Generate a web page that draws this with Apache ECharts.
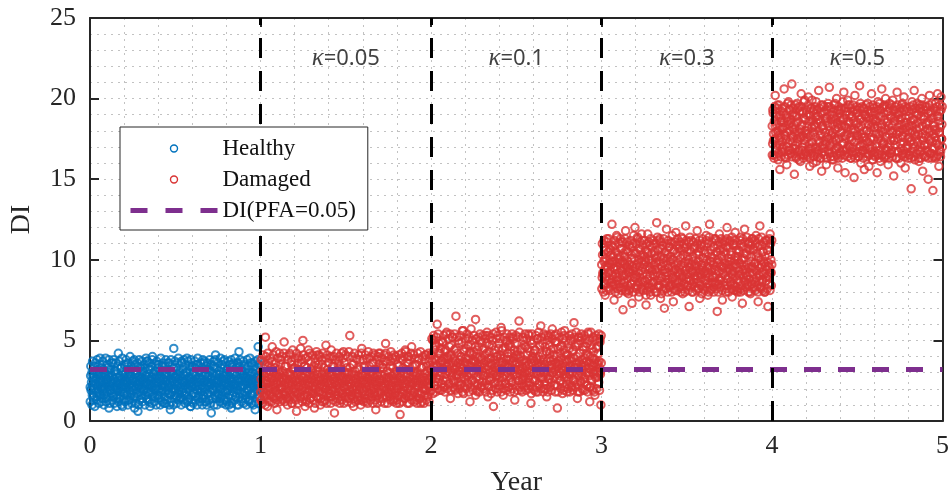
<!DOCTYPE html>
<html>
<head>
<meta charset="utf-8">
<title>DI vs Year</title>
<script src="https://cdn.jsdelivr.net/npm/echarts@6/dist/echarts.min.js"></script>
<style>
  html, body { margin: 0; padding: 0; background: #fff; }
  #chart { width: 952px; height: 502px; }
</style>
</head>
<body>
<div id="chart"></div>
<script>
// DI samples, one list per year (year 0-1 healthy, then damaged with growing kappa)
const healthy = [
  2.1,2.8,1.9,2.4,3.0,1.6,2.2,2.7,1.3,2.5,2.0,3.4,2.3,1.8,2.6,2.9,1.5,2.2,3.1,2.0,
  2.6,1.7,2.3,3.9,2.1,2.4,1.2,2.8,2.2,1.9,2.5,3.2,1.6,2.7,2.0,2.3,2.9,1.4,2.4,2.6,
  1.8,2.5,3.3,2.1,0.8,2.7,2.2,1.9,3.0,2.4,1.7,2.8,2.3,3.6,2.0,1.5,2.6,2.1,2.9,2.2,
  3.1,2.0,1.6,2.4,2.7,1.9,4.2,2.3,1.4,2.8,2.5,2.1,1.8,3.3,2.6,2.2,0.9,2.4,2.0,2.7,
  2.3,1.7,2.9,2.5,2.1,3.5,1.8,2.4,2.7,1.3,2.2,3.0,2.6,1.9,2.3,2.8,1.6,3.2,2.1,2.5,
  1.9,2.6,2.2,3.8,1.5,2.4,2.9,2.0,2.7,1.7,3.1,2.3,0.6,2.5,2.2,1.8,2.8,2.4,3.4,2.0,
  2.7,2.1,1.4,2.5,3.0,2.3,1.9,2.6,2.2,3.3,1.6,2.8,2.4,2.0,3.7,1.8,2.3,2.9,1.2,2.6,
  2.2,3.2,2.5,1.8,2.7,2.1,4.0,2.4,1.7,2.9,2.3,1.5,2.6,3.1,2.0,2.4,1.9,2.8,2.2,3.5,
  1.6,2.4,2.8,2.0,3.1,2.5,1.3,2.2,2.7,1.9,3.4,2.3,2.6,1.1,2.9,2.1,2.5,1.8,3.0,2.4,
  2.5,1.9,2.3,3.6,2.1,2.8,1.7,2.4,0.7,2.6,2.2,3.0,1.8,2.5,2.9,2.0,4.5,2.3,1.6,2.7,
  2.0,2.7,3.3,1.5,2.4,2.2,2.9,1.9,2.6,3.1,2.3,1.4,2.8,2.1,3.7,2.5,1.8,2.4,2.0,2.9,
  2.8,1.6,2.4,2.2,3.0,1.8,2.6,3.9,2.1,2.5,1.3,2.7,2.3,1.9,3.2,2.4,0.9,2.6,2.2,3.4,
  2.1,2.9,1.7,2.5,2.3,3.3,2.0,1.5,2.8,2.4,2.6,1.9,3.5,2.2,2.7,1.6,2.4,3.1,2.0,2.6,
  3.0,2.2,2.6,1.4,2.8,2.1,2.4,3.6,1.8,2.5,2.0,2.9,1.2,2.3,3.2,2.6,1.7,2.4,2.8,2.1,
  2.4,1.8,3.1,2.6,0.5,2.3,2.7,2.0,3.4,1.9,2.5,2.2,2.8,1.6,4.1,2.4,2.1,2.9,1.5,2.6,
  1.7,2.5,2.3,2.9,2.1,1.4,2.7,3.3,2.4,2.0,2.6,1.8,3.0,2.2,2.5,3.8,1.9,2.3,2.8,1.3,
  2.6,3.2,1.9,2.4,2.8,2.2,1.6,2.5,3.0,2.1,2.7,0.8,2.4,3.5,2.0,2.6,1.8,2.3,2.9,2.2,
  2.3,1.5,2.8,2.0,3.3,2.5,2.2,1.9,2.6,4.3,2.4,1.7,2.9,2.1,2.7,3.1,1.4,2.5,2.2,2.8,
  2.9,2.2,1.8,3.4,2.5,1.6,2.3,2.7,2.0,2.4,3.0,1.9,2.6,1.2,2.8,2.3,3.6,2.1,2.5,1.7,
  2.4,3.0,2.1,2.6,1.7,2.9,2.3,0.7,2.5,3.2,2.0,2.7,1.9,2.4,4.6,2.2,2.8,1.5,2.6,3.1
];
// second sampling pass over the same healthy year
const healthyB = [
  1.2,3.4,2.0,1.0,3.7,2.7,1.5,3.1,0.9,3.6,2.3,1.3,3.8,1.8,3.2,1.1,2.9,3.5,1.6,2.5,
  3.3,1.4,3.7,2.1,1.0,3.0,1.7,3.9,1.2,2.6,3.5,1.5,2.8,3.8,1.1,3.2,1.9,3.6,1.3,2.4,
  1.6,3.8,1.1,3.1,2.2,3.6,1.4,0.9,3.4,2.0,1.2,3.7,2.7,1.5,3.3,1.0,3.9,1.8,3.0,1.3,
  3.5,1.2,2.4,3.8,1.6,3.2,1.0,3.6,2.9,1.3,4.0,1.7,3.4,1.1,2.5,3.7,1.4,3.1,0.8,3.5,
  1.1,3.0,1.5,3.6,2.1,1.0,3.8,1.3,3.3,2.6,1.6,3.7,1.2,3.1,1.9,3.5,1.0,2.8,3.9,1.4,
  3.7,1.3,3.2,1.7,3.6,0.9,2.3,3.4,1.1,3.8,1.5,3.0,2.0,1.2,3.5,2.7,1.0,3.7,1.6,3.3,
  1.4,3.5,2.6,1.0,3.9,1.8,3.1,1.2,3.6,2.2,1.5,3.4,1.1,3.8,2.9,1.3,3.2,1.7,3.6,1.0,
  3.1,1.6,3.8,1.2,2.5,3.5,1.0,3.3,1.9,3.7,1.4,2.8,1.1,3.6,1.7,3.9,1.3,3.0,2.1,1.5,
  1.0,3.6,1.8,3.2,1.3,3.8,2.4,1.1,3.5,1.6,3.0,1.2,3.7,2.0,1.4,3.4,0.9,3.8,2.7,1.2,
  3.4,1.1,3.0,1.7,3.7,1.3,3.5,2.2,1.0,3.9,1.5,3.1,2.6,1.2,3.6,1.8,3.3,1.0,3.8,1.6,
  1.5,3.7,1.2,2.9,3.4,1.0,3.6,1.7,3.2,1.3,3.8,2.3,1.1,3.5,1.9,3.0,1.4,3.7,1.0,3.3,
  3.8,1.4,3.3,1.0,2.4,3.6,1.6,3.1,1.2,3.9,2.0,1.5,3.5,1.1,3.7,2.8,1.3,3.4,1.8,1.0,
  1.2,3.2,1.9,3.7,1.0,3.5,2.6,1.4,3.8,1.1,3.0,1.6,3.6,2.1,1.3,3.9,1.5,3.3,1.0,3.6,
  3.6,1.0,3.4,1.5,3.8,2.2,1.2,3.1,1.7,3.7,1.1,3.5,2.7,1.4,3.2,1.0,3.8,1.9,3.4,1.3,
  1.3,3.9,1.6,3.0,1.1,3.6,2.5,1.0,3.4,1.8,3.7,1.2,3.1,2.3,1.5,3.8,1.1,3.5,2.0,3.7
];
const damagedK005 = [
  1.8,2.6,1.3,3.1,2.2,1.9,3.7,2.4,1.5,2.8,2.0,5.2,2.5,1.7,3.0,2.3,0.9,2.7,3.4,2.1,
  2.9,1.6,2.4,3.3,2.0,1.2,2.6,4.6,2.2,1.8,3.0,2.5,1.4,2.8,2.1,3.6,1.9,2.4,0.7,2.7,
  2.3,3.2,1.7,2.6,2.9,2.0,1.5,3.8,2.4,2.1,2.7,1.3,3.1,2.5,1.8,4.9,2.2,2.8,1.6,3.4,
  2.0,2.6,3.0,1.4,2.3,2.9,1.9,2.5,4.2,1.7,2.8,2.2,3.5,1.1,2.6,2.4,3.2,2.0,1.6,2.7,
  3.3,1.8,2.5,2.2,0.6,2.9,2.4,3.9,1.7,2.6,2.1,3.1,2.4,1.5,2.8,2.2,3.6,1.9,2.5,5.0,
  2.1,2.7,1.6,3.4,2.3,2.0,2.8,1.3,2.5,3.0,1.8,2.6,4.4,2.2,1.9,2.9,2.4,1.4,3.2,2.6,
  1.9,2.5,3.1,2.2,1.7,2.8,0.8,2.4,3.6,2.0,2.6,1.5,2.9,2.3,3.3,1.8,2.5,4.1,2.1,2.7,
  2.6,1.4,2.3,2.9,3.5,2.1,1.8,2.6,2.4,1.2,3.0,2.7,2.0,4.7,1.6,2.4,2.8,3.2,1.9,2.3,
  3.0,2.2,1.7,2.5,2.8,4.0,1.5,2.3,2.9,2.1,1.9,3.4,2.6,0.5,2.4,2.7,1.8,3.1,2.2,2.5,
  1.6,2.9,2.4,3.7,2.0,2.6,1.3,2.8,2.3,1.9,3.2,2.5,1.7,2.7,4.3,2.1,2.4,3.0,1.5,2.6,
  2.5,1.8,3.3,2.2,2.7,1.4,2.4,3.0,2.1,5.3,1.9,2.6,2.3,1.6,2.9,3.5,2.0,2.5,0.9,2.8,
  2.2,3.1,1.7,2.6,2.4,2.0,3.8,1.5,2.8,2.3,2.6,1.9,3.2,2.1,1.3,2.7,2.5,4.5,2.0,2.4,
  2.8,1.9,2.5,3.4,1.6,2.3,2.9,2.1,1.2,2.7,3.1,2.4,1.8,2.6,2.2,3.9,1.7,2.5,3.0,2.1,
  1.5,2.6,2.3,2.9,3.6,2.0,2.7,1.8,2.4,3.2,0.7,2.5,2.2,2.8,1.6,3.0,2.4,4.2,1.9,2.6,
  2.4,3.3,1.7,2.2,2.8,2.5,1.4,3.5,2.1,2.6,1.9,2.9,2.3,4.8,1.6,2.7,2.0,3.1,2.4,1.8,
  2.7,2.1,3.0,1.5,2.5,3.7,2.2,1.9,2.8,2.4,3.3,1.3,2.6,2.0,2.9,1.7,4.0,2.5,2.2,3.1,
  2.0,2.8,2.4,1.6,3.4,2.2,2.7,0.4,2.5,3.0,1.8,2.6,2.3,3.8,1.9,2.5,2.9,1.4,2.1,4.4,
  3.2,2.3,1.7,2.9,2.5,2.0,3.6,2.4,1.5,2.7,2.2,3.1,1.9,2.6,4.6,2.3,1.6,2.8,2.4,3.0,
  2.6,1.8,3.5,2.1,2.8,2.4,1.3,3.0,2.5,2.2,3.9,1.7,2.7,2.3,2.9,1.1,2.6,3.3,2.0,2.5,
  2.3,3.4,2.0,2.7,1.6,2.9,2.5,4.1,1.9,2.4,3.1,2.2,1.5,2.8,2.6,3.7,2.1,1.8,2.7,3.2
];
const damagedK005B = [
  1.3,3.8,2.2,1.1,4.1,2.9,1.6,3.5,1.0,4.0,2.5,1.4,4.2,1.9,3.6,1.2,3.1,3.9,1.7,2.7,
  3.7,1.5,4.1,2.3,1.1,3.3,1.8,4.3,1.3,2.8,3.9,1.6,3.0,4.2,1.2,3.5,2.0,4.0,1.4,2.6,
  1.7,4.2,1.2,3.4,2.4,4.0,1.5,1.0,3.8,2.2,1.3,4.1,2.9,1.6,3.7,1.1,4.4,1.9,3.3,1.4,
  3.9,1.3,2.6,4.2,1.7,3.6,1.1,4.0,3.2,1.4,4.5,1.8,3.8,1.2,2.7,4.1,1.5,3.4,0.9,3.9,
  1.2,3.3,1.6,4.0,2.3,1.1,4.2,1.4,3.7,2.8,1.7,4.1,1.3,3.4,2.0,3.9,1.1,3.1,4.3,1.5,
  4.1,1.4,3.5,1.8,4.0,1.0,2.5,3.8,1.2,4.2,1.6,3.3,2.2,1.3,3.9,2.9,1.1,4.1,1.7,3.6,
  1.5,3.9,2.8,1.1,4.4,1.9,3.4,1.3,4.0,2.4,1.6,3.8,1.2,4.2,3.1,1.4,3.5,1.8,4.0,1.1,
  3.4,1.7,4.2,1.3,2.7,3.9,1.1,3.6,2.1,4.1,1.5,3.0,1.2,4.0,1.8,4.3,1.4,3.3,2.3,1.6,
  1.1,4.0,1.9,3.5,1.4,4.2,2.6,1.2,3.9,1.7,3.3,1.3,4.1,2.2,1.5,3.8,1.0,4.2,2.9,1.3,
  3.8,1.2,3.3,1.8,4.1,1.4,3.9,2.4,1.1,4.3,1.6,3.4,2.8,1.3,4.0,1.9,3.6,1.1,4.2,1.7,
  1.6,4.1,1.3,3.2,3.8,1.1,4.0,1.8,3.5,1.4,4.2,2.5,1.2,3.9,2.1,3.3,1.5,4.1,1.1,3.7,
  4.2,1.5,3.7,1.1,2.6,4.0,1.7,3.4,1.3,4.3,2.2,1.6,3.9,1.2,4.1,3.0,1.4,3.8,1.9,1.1,
  1.3,3.5,2.0,4.1,1.1,3.9,2.8,1.5,4.2,1.2,3.3,1.7,4.0,2.3,1.4,4.3,1.6,3.6,1.1,4.0,
  4.0,1.1,3.8,1.6,4.2,2.4,1.3,3.4,1.8,4.1,1.2,3.9,2.9,1.5,3.5,1.1,4.2,2.1,3.8,1.4,
  1.4,4.3,1.7,3.3,1.2,4.0,2.7,1.1,3.8,1.9,4.1,1.3,3.4,2.5,1.6,4.2,1.2,3.9,2.2,4.1
];
const damagedK01 = [
  3.2,4.1,2.6,3.7,5.0,2.9,3.4,4.4,2.2,3.8,3.1,4.7,2.7,3.5,6.0,3.0,2.4,3.9,4.2,3.3,
  2.8,3.6,4.5,3.0,1.9,3.7,3.3,4.9,2.5,3.9,3.2,2.1,4.3,3.6,2.9,5.4,3.4,2.6,4.0,3.1,
  3.8,2.3,3.5,4.6,3.0,1.4,3.6,4.1,2.7,3.3,5.2,3.0,2.5,3.9,4.4,3.2,2.0,3.7,6.5,2.8,
  3.4,4.2,2.9,3.6,2.4,4.8,3.1,3.8,2.2,3.5,4.0,2.7,3.3,5.6,2.9,3.7,1.7,4.3,3.0,3.6,
  2.6,3.9,4.5,3.2,2.8,3.5,5.1,2.3,3.8,3.0,4.2,1.2,3.4,4.7,2.9,3.6,3.1,2.5,4.1,3.7,
  4.3,3.0,2.4,3.7,6.3,3.3,2.7,4.0,3.5,1.8,3.9,3.2,4.6,2.6,3.4,5.0,2.9,3.8,2.1,3.5,
  3.1,4.4,2.8,3.6,3.3,2.2,4.1,5.3,3.0,3.7,2.5,4.8,3.4,1.5,3.9,3.2,4.3,2.7,3.6,3.0,
  3.9,2.6,3.5,4.7,3.1,2.9,0.9,3.8,4.2,3.3,2.4,3.6,5.5,3.0,2.8,4.0,3.4,2.0,4.5,3.2,
  2.7,3.7,4.1,3.0,5.8,2.5,3.6,3.2,4.4,1.6,3.9,3.1,2.8,4.6,3.5,2.3,3.8,4.9,3.0,3.4,
  4.0,3.3,2.1,3.8,3.5,4.8,2.7,3.1,4.2,3.6,2.4,5.2,3.0,3.9,2.9,4.4,1.3,3.5,3.2,4.1,
  3.6,2.8,4.3,3.2,2.5,3.9,6.2,3.4,2.9,4.0,3.1,1.9,3.7,4.5,2.6,3.3,5.0,2.8,3.8,3.0,
  2.9,4.6,3.4,2.2,3.7,3.1,4.1,2.7,5.4,3.5,3.0,2.4,4.3,3.8,1.1,3.6,4.8,3.2,2.6,3.9,
  4.2,3.0,3.7,2.5,4.4,3.3,1.8,3.9,3.1,5.1,2.8,3.6,4.0,2.3,3.4,4.7,3.0,5.9,2.7,3.5,
  3.3,2.6,4.1,3.8,3.0,2.0,3.5,4.6,2.9,3.2,4.3,1.5,3.7,3.1,5.3,2.6,3.9,3.4,4.2,2.8,
  3.7,4.4,2.4,3.3,5.7,3.0,3.8,2.7,4.1,3.5,2.2,4.9,3.2,3.6,2.9,4.0,0.8,3.4,4.5,3.1,
  2.8,3.5,4.2,3.0,2.5,3.9,4.7,3.3,1.7,3.6,3.1,4.4,2.7,5.6,3.4,2.9,3.8,4.1,2.3,3.7,
  4.1,3.2,2.6,3.8,4.5,2.9,3.4,5.0,3.1,2.1,3.7,4.3,3.0,2.6,3.9,6.1,3.3,2.4,4.6,3.5,
  3.0,4.0,3.6,1.4,3.3,4.8,2.8,3.7,3.1,4.2,2.5,3.5,5.2,2.9,3.8,3.2,1.9,4.4,3.6,2.7,
  3.9,2.4,3.4,4.6,3.0,3.7,2.2,4.1,5.5,3.3,2.8,3.6,1.2,4.0,3.2,4.7,2.6,3.5,3.9,3.0,
  3.4,4.3,2.9,3.6,1.6,3.8,3.1,4.5,2.7,5.1,3.5,3.0,4.2,2.4,3.7,3.3,4.9,2.9,1.0,3.6
];
const damagedK01B = [
  1.9,5.1,3.0,1.7,5.3,3.8,2.2,4.6,1.8,5.2,3.4,2.0,5.4,2.6,4.8,1.9,4.2,5.0,2.3,3.7,
  4.9,2.1,5.3,3.2,1.8,4.4,2.5,5.5,2.0,3.9,5.1,2.3,4.1,5.4,1.9,4.7,2.8,5.2,2.1,3.6,
  2.4,5.4,1.9,4.5,3.3,5.2,2.2,1.7,5.0,3.1,2.0,5.3,4.0,2.3,4.9,1.8,5.6,2.7,4.4,2.1,
  5.1,2.0,3.6,5.4,2.4,4.7,1.8,5.2,4.3,2.1,5.7,2.5,5.0,1.9,3.8,5.3,2.2,4.6,1.6,5.1,
  1.9,4.4,2.3,5.2,3.2,1.8,5.4,2.1,4.9,3.9,2.4,5.3,2.0,4.5,2.8,5.1,1.8,4.2,5.5,2.2,
  5.3,2.1,4.7,2.5,5.2,1.7,3.5,5.0,1.9,5.4,2.3,4.4,3.1,2.0,5.1,4.0,1.8,5.3,2.4,4.8,
  2.2,5.1,3.9,1.8,5.6,2.7,4.5,2.0,5.2,3.3,2.3,5.0,1.9,5.4,4.2,2.1,4.7,2.5,5.2,1.8,
  4.6,2.4,5.4,2.0,3.7,5.1,1.8,4.8,2.9,5.3,2.2,4.1,1.9,5.2,2.5,5.5,2.1,4.4,3.2,2.3,
  1.8,5.2,2.6,4.7,2.1,5.4,3.6,1.9,5.1,2.4,4.5,2.0,5.3,3.0,2.2,5.0,1.7,5.4,4.0,2.0,
  5.0,1.9,4.4,2.5,5.3,2.1,5.1,3.4,1.8,5.5,2.3,4.6,3.8,2.0,5.2,2.7,4.8,1.8,5.4,2.4,
  2.3,5.3,2.0,4.3,5.0,1.8,5.2,2.6,4.7,2.1,5.4,3.5,1.9,5.1,3.0,4.5,2.2,5.3,1.8,4.9,
  5.4,2.2,4.9,1.8,3.7,5.2,2.5,4.6,2.0,5.5,3.2,2.3,5.1,1.9,5.3,4.2,2.1,5.0,2.7,1.8,
  2.0,4.8,2.9,5.3,1.8,5.1,3.9,2.2,5.4,1.9,4.4,2.5,5.2,3.3,2.1,5.5,2.3,4.7,1.8,5.2,
  5.2,1.8,5.0,2.4,5.4,3.4,2.0,4.6,2.6,5.3,1.9,5.1,4.1,2.2,4.8,1.8,5.4,3.0,5.0,2.1,
  2.1,5.5,2.5,4.5,1.9,5.2,3.8,1.8,5.0,2.7,5.3,2.0,4.6,3.6,2.3,5.4,1.9,5.1,3.1,5.3
];
const damagedK03 = [
  9.7,8.9,10.3,9.1,8.4,9.9,10.8,9.4,7.8,9.6,10.1,9.0,11.3,8.7,9.5,10.5,9.2,8.2,9.8,10.0,
  9.3,10.6,8.6,9.7,12.2,9.0,8.8,10.2,9.5,7.5,9.9,10.9,9.1,8.5,9.6,11.5,9.4,8.9,10.3,7.9,
  10.0,9.2,8.3,9.8,10.7,9.5,8.7,11.1,9.3,9.9,6.9,10.4,9.0,8.6,9.7,10.2,11.8,9.1,8.0,9.6,
  8.8,9.9,10.5,9.2,8.1,9.7,9.4,10.8,8.5,9.0,10.3,7.3,9.6,11.0,9.3,8.7,10.1,9.5,12.0,8.9,
  9.5,10.4,9.0,8.4,11.4,9.8,9.2,7.7,10.0,9.6,8.9,10.6,9.3,8.2,9.9,11.2,9.1,10.3,8.6,9.7,
  10.2,8.7,9.4,9.9,7.2,10.5,9.1,8.8,11.6,9.6,10.0,8.3,9.5,10.9,9.0,7.8,9.8,10.4,9.3,8.5,
  9.1,11.0,8.6,9.7,10.3,9.4,8.0,10.1,9.8,12.3,9.2,8.7,10.6,9.5,8.4,9.9,11.3,9.0,7.6,10.2,
  9.6,8.9,10.7,9.3,8.2,9.8,10.1,7.0,9.4,10.5,9.0,8.6,11.9,9.7,9.2,10.3,8.8,9.5,10.8,8.3,
  9.9,10.2,8.5,9.1,11.1,9.6,8.8,10.0,7.4,9.3,10.6,9.7,8.1,9.4,11.7,9.0,10.4,8.7,9.8,9.2,
  8.6,9.5,10.9,9.2,8.3,10.1,9.7,11.4,8.9,9.0,7.9,10.3,9.6,8.5,10.7,9.3,9.9,12.1,8.8,9.4,
  10.5,9.1,8.4,9.8,10.0,7.1,9.5,10.6,9.2,8.7,11.2,9.7,8.0,9.3,10.2,9.9,8.6,10.8,9.0,9.6,
  9.3,8.8,10.4,9.6,11.8,9.0,8.2,9.9,10.3,9.4,7.6,10.7,9.1,8.9,9.7,11.0,9.5,8.4,10.1,9.2,
  9.8,10.6,8.7,9.3,9.0,11.5,8.5,10.0,9.6,7.8,10.4,9.2,8.9,12.2,9.5,8.1,9.9,10.2,9.4,8.6,
  10.1,9.0,9.7,8.3,10.8,9.4,8.9,11.3,9.6,9.1,10.5,6.8,9.8,10.0,8.5,9.3,11.6,9.7,8.7,10.3,
  8.9,9.6,10.2,7.5,9.2,10.7,9.5,8.6,11.1,9.8,9.0,10.4,8.2,9.7,12.0,9.3,8.8,10.1,9.5,9.9,
  9.4,11.2,8.5,9.9,10.3,9.1,7.7,9.6,10.9,8.8,9.3,10.0,8.4,11.7,9.7,9.0,10.6,8.1,9.5,10.2,
  10.0,8.7,9.3,10.5,9.8,8.2,11.4,9.1,9.7,10.8,7.3,9.4,10.1,8.9,9.6,11.9,9.2,8.6,10.4,9.0,
  9.7,10.3,9.0,8.4,11.0,9.5,8.8,10.6,9.2,7.9,9.9,10.2,8.5,9.6,11.3,9.1,10.7,8.3,9.4,9.8,
  8.6,9.8,11.5,9.3,8.9,10.4,9.6,7.4,10.1,9.0,8.7,12.1,9.5,10.0,8.2,9.7,10.9,9.2,8.8,10.5,
  9.9,9.1,8.0,10.2,9.6,11.2,8.7,9.4,10.6,9.0,7.1,9.8,10.3,8.9,9.5,11.6,9.2,10.0,8.4,9.7
];
const damagedK03B = [
  8.2,11.0,9.2,8.0,11.2,10.0,8.5,10.6,8.1,11.1,9.6,8.3,11.3,8.8,10.7,8.1,10.3,10.9,8.6,9.9,
  10.8,8.4,11.2,9.4,8.0,10.5,8.7,11.4,8.2,10.1,11.0,8.5,10.2,11.3,8.1,10.7,9.0,11.1,8.3,9.8,
  8.6,11.3,8.1,10.6,9.5,11.1,8.4,7.9,10.9,9.3,8.2,11.2,10.1,8.5,10.8,8.0,11.5,8.9,10.4,8.3,
  11.0,8.2,9.7,11.3,8.6,10.7,8.0,11.1,10.3,8.3,11.6,8.7,10.9,8.1,10.0,11.2,8.4,10.6,7.8,11.0,
  8.1,10.4,8.5,11.1,9.4,8.0,11.3,8.3,10.8,10.0,8.6,11.2,8.2,10.5,9.0,11.0,8.0,10.2,11.4,8.4,
  11.2,8.3,10.7,8.7,11.1,7.9,9.6,10.9,8.1,11.3,8.5,10.4,9.2,8.2,11.0,10.1,8.0,11.2,8.6,10.8,
  8.4,11.0,10.0,8.0,11.5,8.9,10.5,8.2,11.1,9.4,8.5,10.9,8.1,11.3,10.3,8.3,10.7,8.7,11.1,8.0,
  10.6,8.6,11.3,8.2,9.8,11.0,8.0,10.8,9.1,11.2,8.4,10.2,8.1,11.1,8.7,11.4,8.3,10.5,9.3,8.5,
  8.0,11.1,8.8,10.7,8.3,11.3,9.7,8.1,11.0,8.6,10.5,8.2,11.2,9.2,8.4,10.9,7.9,11.3,10.1,8.2,
  10.9,8.1,10.4,8.7,11.2,8.3,11.0,9.5,8.0,11.4,8.5,10.6,9.9,8.2,11.1,8.9,10.8,8.0,11.3,8.6,
  8.5,11.2,8.2,10.3,10.9,8.0,11.1,8.8,10.6,8.3,11.3,9.6,8.1,11.0,9.1,10.5,8.4,11.2,8.0,10.8,
  11.3,8.4,10.8,8.0,9.7,11.1,8.6,10.5,8.2,11.4,9.3,8.5,11.0,8.1,11.2,10.2,8.3,10.9,8.8,8.0,
  8.2,10.6,9.0,11.2,8.0,11.0,10.0,8.4,11.3,8.1,10.4,8.7,11.1,9.4,8.3,11.4,8.5,10.7,8.0,11.1,
  11.1,8.0,10.9,8.5,11.3,9.5,8.2,10.6,8.8,11.2,8.1,11.0,10.2,8.4,10.8,8.0,11.3,9.1,10.9,8.3,
  8.3,11.4,8.6,10.5,8.1,11.1,9.8,8.0,10.9,8.9,11.2,8.2,10.6,9.6,8.5,11.3,8.1,11.0,9.2,11.2
];
const damagedK05 = [
  18.3,17.2,19.1,17.8,16.5,18.6,17.5,20.2,17.9,16.9,18.4,17.1,19.6,18.0,16.2,17.7,18.9,17.4,15.6,18.2,
  17.6,18.8,16.7,17.3,19.4,18.1,17.0,18.5,20.6,17.8,16.4,18.3,17.5,19.0,15.9,17.9,18.6,17.2,19.8,16.8,
  18.0,19.3,17.4,16.6,18.7,17.7,20.9,18.2,16.9,17.6,19.1,18.4,15.3,17.9,18.9,17.1,16.3,18.5,19.7,17.5,
  17.3,18.6,16.8,19.5,17.9,18.1,16.1,17.6,20.3,18.3,17.0,19.2,17.7,16.5,18.8,17.4,19.9,18.0,16.7,17.8,
  19.0,17.5,18.3,16.4,17.8,20.1,18.6,17.2,15.8,18.9,17.7,16.9,19.4,18.2,17.3,18.7,16.0,17.9,19.3,18.4,
  16.9,18.2,17.6,19.8,18.5,17.0,16.6,18.9,17.4,20.5,18.0,17.3,16.3,18.6,19.1,17.8,15.5,18.3,17.1,19.6,
  18.1,17.4,19.2,16.7,17.9,18.6,17.2,15.9,18.8,17.6,19.5,18.3,16.8,17.5,20.7,18.0,17.1,16.4,18.7,17.7,
  17.8,19.0,18.4,17.3,16.2,18.9,17.6,19.7,18.1,16.9,17.4,20.0,18.5,17.0,15.7,18.2,19.3,17.5,16.6,18.8,
  18.6,16.5,17.9,19.4,18.0,17.2,18.7,16.8,20.4,17.7,18.3,15.4,17.5,19.0,18.2,16.9,17.8,19.9,17.1,18.4,
  17.0,18.5,19.6,17.6,16.3,18.1,17.4,18.9,16.7,19.2,17.9,18.6,15.1,17.3,20.2,18.0,16.6,18.4,17.7,19.1,
  19.3,17.7,16.4,18.2,17.5,20.8,18.7,17.1,16.0,18.3,17.8,19.5,17.2,16.8,18.6,18.0,15.6,17.6,19.0,18.9,
  17.4,18.8,18.0,16.6,19.7,17.3,18.4,15.8,17.9,19.1,16.9,18.2,17.6,20.3,18.5,17.0,16.2,18.7,17.5,19.4,
  18.2,16.7,19.0,17.8,18.6,17.2,15.4,18.3,19.8,17.5,16.5,18.9,17.7,19.3,16.1,18.0,17.4,20.6,18.4,17.1,
  17.9,19.5,17.3,18.7,16.4,18.1,20.0,17.6,16.8,18.5,19.2,17.0,15.9,18.3,17.8,19.7,16.6,18.0,17.4,18.8,
  16.8,18.3,17.6,19.9,18.0,15.2,17.4,18.6,19.3,17.1,18.9,16.3,17.8,20.4,18.2,17.5,16.7,19.0,17.9,18.4,
  18.7,17.2,16.0,18.4,19.6,17.7,18.1,16.6,17.3,20.1,18.5,17.9,15.7,18.8,17.0,19.4,18.2,16.9,17.5,18.0,
  17.6,19.2,18.3,16.5,17.9,18.6,14.4,17.4,19.8,18.0,16.9,18.7,17.2,20.5,17.8,16.2,18.4,19.1,17.5,18.1,
  19.0,17.3,18.5,17.8,16.1,18.2,19.6,17.0,16.7,18.9,17.6,20.0,18.3,15.5,17.4,18.7,19.3,17.1,16.4,18.0,
  17.7,18.4,16.8,19.5,18.1,17.2,15.0,18.6,17.9,20.2,16.6,18.0,17.5,19.1,18.8,16.3,17.3,14.3,18.5,17.8,
  18.3,16.9,17.6,19.7,18.0,17.4,16.4,18.9,20.3,17.1,18.6,15.8,17.9,19.2,18.2,16.7,20.1,17.5,18.4,17.0
];
const damagedK05B = [
  16.5,19.3,17.4,16.3,19.5,18.3,16.8,18.9,16.4,19.4,17.9,16.6,19.6,17.1,19.0,16.4,18.6,19.2,16.9,18.2,
  19.1,16.7,19.5,17.7,16.3,18.8,17.0,19.7,16.5,18.4,19.3,16.8,18.5,19.6,16.4,19.0,17.3,19.4,16.6,18.1,
  16.9,19.6,16.4,18.9,17.8,19.4,16.7,16.2,19.2,17.6,16.5,19.5,18.4,16.8,19.1,16.3,19.8,17.2,18.7,16.6,
  19.3,16.5,18.0,19.6,16.9,19.0,16.3,19.4,18.6,16.6,19.9,17.0,19.2,16.4,18.3,19.5,16.7,18.9,16.1,19.3,
  16.4,18.7,16.8,19.4,17.7,16.3,19.6,16.6,19.1,18.3,16.9,19.5,16.5,18.8,17.3,19.3,16.3,18.5,19.7,16.7,
  19.5,16.6,19.0,17.0,19.4,16.2,17.9,19.2,16.4,19.6,16.8,18.7,17.5,16.5,19.3,18.4,16.3,19.5,16.9,19.1,
  16.7,19.3,18.3,16.3,19.8,17.2,18.8,16.5,19.4,17.7,16.8,19.2,16.4,19.6,18.6,16.6,19.0,17.0,19.4,16.3,
  18.9,16.9,19.6,16.5,18.1,19.3,16.3,19.1,17.4,19.5,16.7,18.5,16.4,19.4,17.0,19.7,16.6,18.8,17.6,16.8,
  16.3,19.4,17.1,19.0,16.6,19.6,18.0,16.4,19.3,16.9,18.8,16.5,19.5,17.5,16.7,19.2,16.2,19.6,18.4,16.5,
  19.2,16.4,18.7,17.0,19.5,16.6,19.3,17.8,16.3,19.7,16.8,18.9,18.2,16.5,19.4,17.2,19.1,16.3,19.6,16.9,
  16.8,19.5,16.5,18.6,19.2,16.3,19.4,17.1,18.9,16.6,19.6,17.9,16.4,19.3,17.4,18.8,16.7,19.5,16.3,19.1,
  19.6,16.7,19.1,16.3,18.0,19.4,16.9,18.8,16.5,19.7,17.6,16.8,19.3,16.4,19.5,18.5,16.6,19.2,17.1,16.3,
  16.5,18.9,17.3,19.5,16.3,19.3,18.3,16.7,19.6,16.4,18.7,17.0,19.4,17.7,16.6,19.7,16.8,19.0,16.3,19.4,
  19.4,16.3,19.2,16.8,19.6,17.8,16.5,18.9,17.1,19.5,16.4,19.3,18.5,16.7,19.1,16.3,19.6,17.4,19.2,16.6,
  16.6,19.7,16.9,18.8,16.4,19.4,18.1,16.3,19.2,17.2,19.5,16.5,18.9,17.9,16.8,19.6,16.4,19.3,17.5,19.5
];
const kappaLabels = ['0.05', '0.1', '0.3', '0.5'];
const changeYears = [1, 2, 3, 4];
const diThreshold = 3.2;

// samples are taken evenly over each year
function spread(startYear, values) {
  return values.map((v, i) => [startYear + (i + 0.5) / values.length, v]);
}
const healthyPts = spread(0, healthy).concat(spread(0, healthyB));
const damagedPts = [].concat(
  spread(1, damagedK005), spread(1, damagedK005B),
  spread(2, damagedK01), spread(2, damagedK01B),
  spread(3, damagedK03), spread(3, damagedK03B),
  spread(4, damagedK05), spread(4, damagedK05B)
);

const blue = '#0072BD';
const red = '#D93434';
const purple = '#7E2F8E';
const axisCol = '#262626';
const serif = 'Liberation Serif';
const gridStyle = { color: '#c2c2c2', width: 1, type: [2, 5] };

const myChart = echarts.init(document.getElementById('chart'));
const option = {
  animation: false,
  textStyle: { fontFamily: serif },
  grid: { left: 90, right: 5, top: 18, bottom: 78 },
  legend: {
    left: 120,
    top: 127,
    orient: 'vertical',
    backgroundColor: '#fff',
    borderColor: axisCol,
    borderWidth: 1,
    padding: [10, 12, 8, 8],
    itemWidth: 87,
    itemHeight: 7,
    itemGap: 8,
    z: 10,
    textStyle: { fontSize: 23, fontFamily: serif, color: '#111' },
    data: [
      { name: 'Healthy', icon: 'circle', itemStyle: { color: 'rgba(0,0,0,0)', borderColor: blue, borderWidth: 1.4, opacity: 1 } },
      { name: 'Damaged', icon: 'circle', itemStyle: { color: 'rgba(0,0,0,0)', borderColor: red, borderWidth: 1.4, opacity: 1 } },
      { name: 'DI(PFA=0.05)', icon: 'line', itemStyle: { color: purple, borderColor: purple, borderWidth: 5, borderType: [17, 18], opacity: 1 } }
    ]
  },
  xAxis: [
    {
      type: 'value', min: 0, max: 5, interval: 1,
      name: 'Year', nameLocation: 'middle', nameGap: 48,
      nameTextStyle: { fontSize: 28, color: axisCol, fontFamily: serif },
      axisLine: { onZero: false, lineStyle: { color: axisCol, width: 2 } },
      axisTick: { inside: true, length: 9, lineStyle: { color: axisCol, width: 2 } },
      axisLabel: { fontSize: 26, color: axisCol, margin: 12, fontFamily: serif },
      splitLine: { show: true, lineStyle: gridStyle },
      minorTick: { show: false, splitNumber: 5 },
      minorSplitLine: { show: true, lineStyle: gridStyle }
    },
    {
      type: 'value', position: 'top', min: 0, max: 5, interval: 1,
      axisLine: { onZero: false, lineStyle: { color: axisCol, width: 2 } },
      axisTick: { inside: true, length: 9, lineStyle: { color: axisCol, width: 2 } },
      axisLabel: { show: false },
      splitLine: { show: false }
    }
  ],
  yAxis: [
    {
      type: 'value', min: 0, max: 25, interval: 5,
      name: 'DI', nameLocation: 'middle', nameGap: 54,
      nameTextStyle: { fontSize: 28, color: axisCol, fontFamily: serif },
      axisLine: { show: true, onZero: false, lineStyle: { color: axisCol, width: 2 } },
      axisTick: { show: true, inside: true, length: 9, lineStyle: { color: axisCol, width: 2 } },
      axisLabel: { fontSize: 26, color: axisCol, margin: 14, fontFamily: serif },
      splitLine: { show: true, lineStyle: gridStyle },
      minorTick: { show: false, splitNumber: 5 },
      minorSplitLine: { show: true, lineStyle: gridStyle }
    },
    {
      type: 'value', position: 'right', min: 0, max: 25, interval: 5,
      axisLine: { show: true, onZero: false, lineStyle: { color: axisCol, width: 2 } },
      axisTick: { show: true, inside: true, length: 9, lineStyle: { color: axisCol, width: 2 } },
      axisLabel: { show: false },
      splitLine: { show: false }
    }
  ],
  series: [
    {
      name: 'Healthy',
      type: 'scatter',
      data: healthyPts,
      symbol: 'circle',
      symbolSize: 7.5,
      silent: true,
      itemStyle: { color: 'rgba(0,0,0,0)', borderColor: blue, borderWidth: 2 },
      z: 2
    },
    {
      name: 'Damaged',
      type: 'scatter',
      data: damagedPts,
      symbol: 'circle',
      symbolSize: 7.5,
      silent: true,
      itemStyle: { color: 'rgba(0,0,0,0)', borderColor: red, borderWidth: 2 },
      z: 2
    },
    {
      name: 'DI(PFA=0.05)',
      type: 'line',
      data: [[0, diThreshold], [5, diThreshold]],
      symbol: 'none',
      silent: true,
      lineStyle: { color: purple, width: 5, type: [17, 17] },
      z: 4,
      markLine: {
        silent: true,
        symbol: ['none', 'none'],
        label: { show: false },
        lineStyle: { color: '#000', width: 3, type: [20, 13] },
        emphasis: { disabled: true },
        data: changeYears.map(y => ({ xAxis: y }))
      }
    },
    {
      // kappa annotations, one per damaged year
      type: 'scatter',
      data: kappaLabels.map((k, i) => [changeYears[i] + 0.5, 22.5, k]),
      symbolSize: 0,
      silent: true,
      z: 6,
      label: {
        show: true,
        position: 'inside',
        formatter: p => '{k|κ}{v|=' + p.value[2] + '}',
        rich: {
          k: { fontFamily: 'Liberation Serif', fontStyle: 'italic', fontSize: 25, color: '#111' },
          v: { fontFamily: 'Noto Sans', fontSize: 22, color: '#111' }
        }
      }
    }
  ]
};
myChart.setOption(option);
</script>
</body>
</html>
